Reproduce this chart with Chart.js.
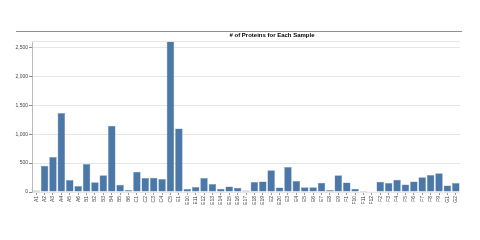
<!DOCTYPE html>
<html>
<head>
<meta charset="utf-8">
<script src="https://cdn.jsdelivr.net/npm/chart.js@4/dist/chart.umd.min.js"></script>
<style>
  html, body { margin: 0; padding: 0; background: #fff; }
  #wrap { width: 480px; height: 240px; }
</style>
</head>
<body>
<div id="wrap"><canvas id="chart" width="480" height="240"></canvas></div>
<script>
var samples = ["A1","A2","A3","A4","A5","A6","B1","B2","B3","B4","B5","B6",
  "C1","C2","C3","C4","C5","E1","E10","E11","E12","E13","E14","E15","E16","E17",
  "E18","E19","E2","E20","E3","E4","E5","E6","E7","E8","E9","F1","F10","F11",
  "F12","F2","F3","F4","F5","F6","F7","F8","F9","G1","G2"]
var proteins = [28,454,604,1367,207,103,483,167,288,1144,127,35,
  351,241,247,225,2600,1096,52,86,240,137,56,96,74,28,
  171,182,377,79,433,190,80,80,160,34,291,165,56,2,
  5,176,154,210,130,182,257,296,325,113,154]
var yTicks = [0, 500, 1000, 1500, 2000, 2500]
var titleText = "# of Proteins for Each Sample"

// header rule + title + top border of the plot
var decor = {
  id: "decor",
  afterDraw: function(chart){
    var ctx = chart.ctx
    var a = chart.chartArea
    ctx.save()
    ctx.strokeStyle = "#8a90a6"
    ctx.lineWidth = 1
    ctx.beginPath()
    ctx.moveTo(16, 31.5)
    ctx.lineTo(462, 31.5)
    ctx.stroke()
    ctx.strokeStyle = "#e6e6e6"
    ctx.beginPath()
    ctx.moveTo(a.left, a.top + 0.5)
    ctx.lineTo(a.right, a.top + 0.5)
    ctx.stroke()
    ctx.fillStyle = "#000"
    ctx.font = "bold 6px 'Liberation Sans', Arial, sans-serif"
    ctx.textAlign = "center"
    ctx.textBaseline = "middle"
    ctx.fillText(titleText, 272, 35.5)
    ctx.restore()
  }
}

var ctx = document.getElementById("chart")
var barChart = new Chart(ctx, {
  type: "bar",
  data: {
    labels: samples,
    datasets: [{
      data: proteins,
      backgroundColor: "#4c78a8",
      borderColor: "#7d9cc2",
      borderWidth: 0.5,
      barPercentage: 0.9,
      categoryPercentage: 1
    }]
  },
  options: {
    responsive: false,
    animation: false,
    layout: { padding: { left: 0, top: 41, right: 20, bottom: 0 } },
    plugins: { legend: { display: false }, title: { display: false }, tooltip: { enabled: false } },
    scales: {
      x: {
        afterFit: function(s){ s.height = 48 },
        border: { display: false },
        grid: { offset: false, drawOnChartArea: false, drawTicks: true, tickLength: 3, color: "#999" },
        ticks: {
          autoSkip: false, minRotation: 90, maxRotation: 90, padding: 1,
          color: "#444", font: { size: 5, family: "'Liberation Sans', Arial, sans-serif" }
        }
      },
      y: {
        min: 0,
        max: 2610,
        afterFit: function(s){ s.width = 32 },
        afterBuildTicks: function(s){ s.ticks = yTicks.map(function(v){ return { value: v } }) },
        border: { display: true, color: "#bbb" },
        grid: { color: "#e6e6e6", tickLength: 3, tickColor: "#888" },
        ticks: {
          padding: 1, color: "#444",
          font: { size: 5, family: "'Liberation Sans', Arial, sans-serif" }
        }
      }
    }
  },
  plugins: [decor]
})
</script>
</body>
</html>
